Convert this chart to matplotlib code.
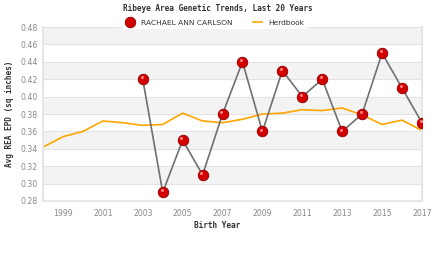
import numpy as np
import matplotlib.pyplot as plt
from matplotlib.lines import Line2D

# data
years = list(range(1998, 2018))
herdbook = [0.342, 0.354, 0.360, 0.372, 0.370, 0.367, 0.368, 0.381, 0.372, 0.370,
            0.374, 0.380, 0.381, 0.385, 0.384, 0.387, 0.379, 0.368, 0.373, 0.361]
cow_years = list(range(2003, 2018))
cow_epd = [0.42, 0.29, 0.35, 0.31, 0.38, 0.44, 0.36, 0.43, 0.40, 0.42,
           0.36, 0.38, 0.45, 0.41, 0.37]
xticks = list(range(1999, 2018, 2))
yticks = [0.28, 0.30, 0.32, 0.34, 0.36, 0.38, 0.40, 0.42, 0.44, 0.46, 0.48]

fig = plt.figure(figsize=(4.35, 2.68), dpi=100)
ax = fig.add_axes([0.099, 0.25, 0.871, 0.649])

# alternating bands
for i in range(len(yticks) - 1):
    if (len(yticks) - 2 - i) % 2 == 0:
        ax.axhspan(yticks[i], yticks[i + 1], color='#f3f3f3', lw=0, zorder=0)
for y in yticks:
    ax.axhline(y, color='#e3e3e3', lw=0.8, zorder=0.5)

ax.plot(years, herdbook, color='#ffa500', lw=1.2, zorder=2)
ax.plot(cow_years, cow_epd, color='#707070', lw=1.2, zorder=3)
ax.plot(cow_years, cow_epd, ls='none', marker='o', ms=7.6, mfc='#d40000',
        mec='#8a0000', mew=0.6, zorder=4)
ax.plot(np.array(cow_years) - 0.06, np.array(cow_epd) + 0.0022, ls='none',
        marker='o', ms=2.2, mfc='#ff8080', mec='none', zorder=5)

ax.set_xlim(1998, 2017)
ax.set_ylim(0.28, 0.48)
ax.set_xticks(xticks)
ax.set_yticks(yticks)
ax.set_yticklabels(['%.2f' % v for v in yticks])
ax.tick_params(length=0, labelsize=5.6, labelcolor='#888888')
ax.tick_params(axis='x', pad=6)
ax.tick_params(axis='y', pad=4)
ax.spines['top'].set_visible(False)
for s in ['left', 'bottom', 'right']:
    ax.spines[s].set_color('#e6e6e6')
    ax.spines[s].set_linewidth(1.5)

mono = {'family': 'DejaVu Sans Mono', 'weight': 'bold', 'size': 5.6, 'color': '#333333'}
fig.text(0.5, 0.97, 'Ribeye Area Genetic Trends, Last 20 Years', ha='center', va='center', fontdict=mono)
fig.text(0.5, 0.16, 'Birth Year', ha='center', va='center', fontdict=mono)
fig.text(0.022, 0.575, 'Avg REA EPD (sq inches)', ha='center', va='center', rotation=90, fontdict=mono)

h_cow = Line2D([], [], ls='none', marker='o', ms=7.6, mfc='#d40000', mec='#8a0000', mew=0.6)
h_herd = Line2D([], [], color='#ffa500', lw=1.2)
leg = fig.legend([h_cow, h_herd], ['RACHAEL ANN CARLSON', 'Herdbook'], loc='center',
                 bbox_to_anchor=(0.494, 0.915), ncol=2, frameon=True, fontsize=5.4,
                 handlelength=1.2, columnspacing=2.8, borderpad=0.4, handletextpad=0.8,
                 fancybox=False)
leg.get_frame().set_edgecolor('none')
leg.get_frame().set_facecolor('white')
leg.get_frame().set_alpha(1)
for t in leg.get_texts():
    t.set_color('#333333')

fig.savefig('out.png', dpi=100)
